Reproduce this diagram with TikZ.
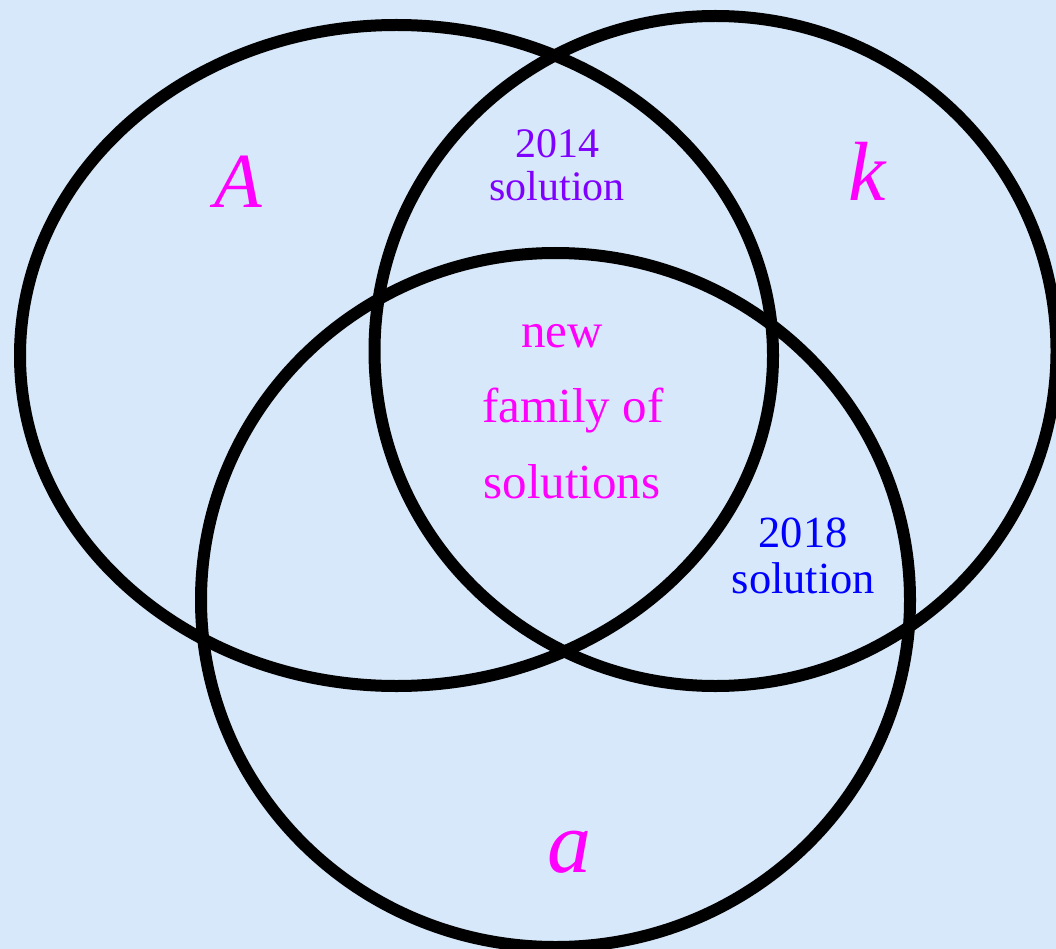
\documentclass[tikz,border=0pt]{standalone}
\usepackage{fontspec}
\setmainfont{Liberation Serif}
\definecolor{bgblue}{HTML}{D6E8F9}
\definecolor{mag}{HTML}{FF00FF}
\definecolor{purp}{HTML}{8000FF}
\definecolor{blu}{HTML}{0000FF}
\tikzset{
  ring/.style={draw=black, line width=12pt},
  lbl/.style={anchor=base, inner sep=0pt, outer sep=0pt},
}
\begin{document}
\begin{tikzpicture}[x=1pt,y=-1pt]
\fill[bgblue] (0,0) rectangle (1056,949);
\useasboundingbox (0,0) rectangle (1056,949);
\coordinate (cA) at (396.5,355.5);
\coordinate (cK) at (715.5,351);
\coordinate (cSa) at (555.5,600);
\draw[ring] (cA) ellipse [x radius=376.5, y radius=330.5];
\draw[ring] (cK) ellipse [x radius=341, y radius=335];
\draw[ring] (cSa) ellipse [x radius=354.5, y radius=347];
\node[lbl, text=mag, font=\fontsize{78}{90}\selectfont\itshape] (lA) at (238,208) {A};
\node[lbl, text=mag, font=\fontsize{84}{96}\selectfont\itshape] (lk) at (867,201) {k};
\node[lbl, text=mag, font=\fontsize{88}{100}\selectfont\itshape] (la) at (569,872) {a};
\node[lbl, text=purp, font=\fontsize{42}{50}\selectfont] (t14a) at (557,158) {2014};
\node[lbl, text=purp, font=\fontsize{42}{50}\selectfont] (t14b) at (557,201) {solution};
\node[lbl, text=blu, font=\fontsize{44.5}{52}\selectfont] (t18a) at (803,547) {2018};
\node[lbl, text=blu, font=\fontsize{44.5}{52}\selectfont] (t18b) at (803.5,593) {solution};
\node[lbl, text=mag, font=\fontsize{49}{58}\selectfont] (n1) at (562,347) {new};
\node[lbl, text=mag, font=\fontsize{49}{58}\selectfont] (n2) at (573,422) {family of};
\node[lbl, text=mag, font=\fontsize{49}{58}\selectfont] (n3) at (572,498) {solutions};
\end{tikzpicture}
\end{document}
